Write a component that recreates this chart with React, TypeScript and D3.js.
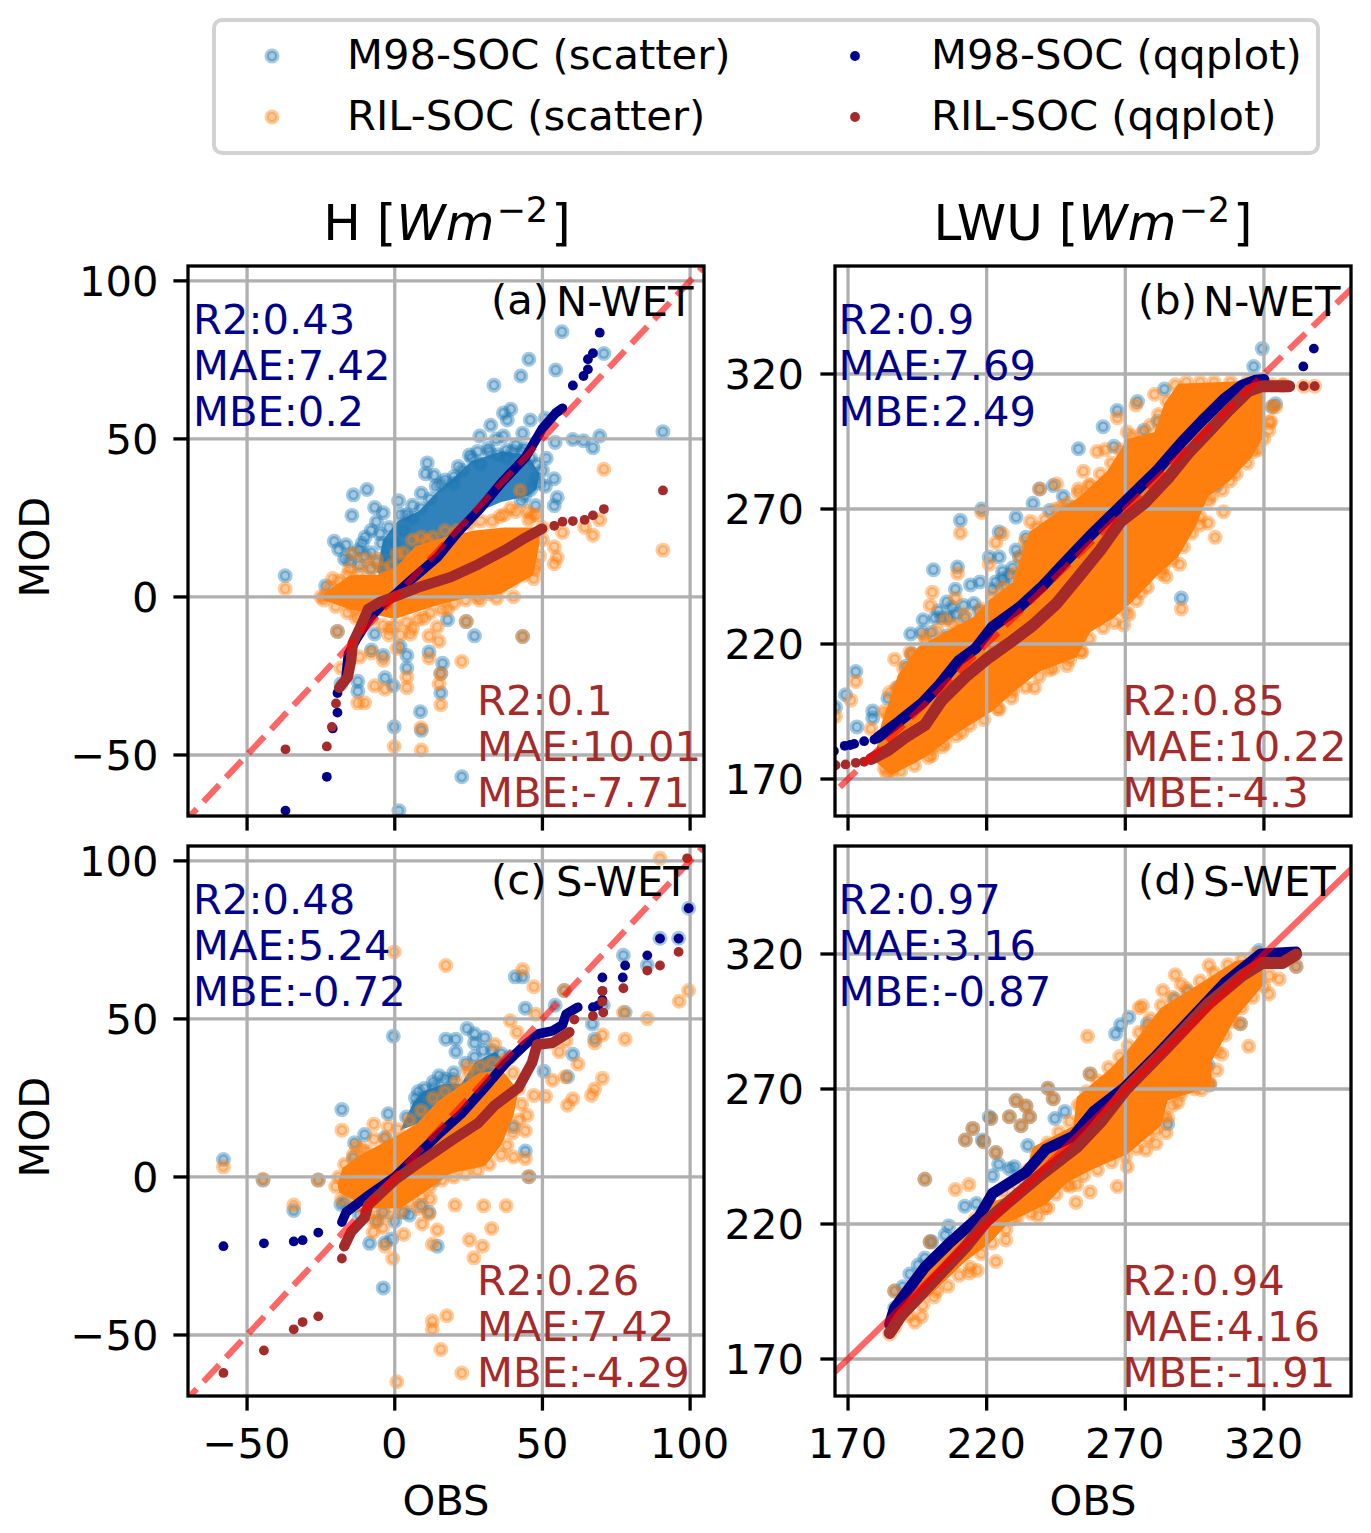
import React from "react";
import * as d3 from "d3";

type P = [number, number];

const hTicks = [-50, 0, 50, 100];
const lwuTicks = [170, 220, 270, 320];
const legendLabels = ["M98-SOC (scatter)", "RIL-SOC (scatter)", "M98-SOC (qqplot)", "RIL-SOC (qqplot)"];

// ---------- panel (a)
const aBlueCore: P[] = [[-6,8],[-4,18],[1,24],[8,27],[14,33],[19,37],[26,43],[36,46],[45,45],[49,39],[48,34],[45,32],[36,30],[26,26],[19,19],[14,14],[8,8],[1,6],[-4,6]];
const aOrangeCore: P[] = [[-24,1],[-15.3,6.9],[-6,7],[0,9],[7,16],[17,19],[27,21],[37,22],[49,22],[49,17],[47,7],[36,1],[25,0],[13,-3],[0,-7],[-15,-4],[-24,-1]];
const aBlue: P[] = [[56.6,83.9],[70.8,77],[45.4,75.2],[54.5,71.8],[42.7,69.9],[33.6,67],[39.3,59.4],[36.8,58.2],[38.1,56],[45.9,56],[50.9,56.5],[32.5,54.3],[28.8,50.9],[36.8,50.9],[43.3,51.8],[54.3,48.9],[60.3,49.8],[63.9,49.4],[67.1,47.2],[69.4,50.9],[90.8,52.3],[31.6,47],[34.4,50],[25.3,44.9],[37.9,46.4],[11,42.4],[10.4,39],[21.5,41.3],[13.3,38.5],[15.6,35.7],[9,32.8],[-14,32.3],[-9.4,34],[-14.5,25.8],[-6.8,28.3],[1.3,30.4],[-6.2,23.8],[-3.9,26.6],[-20.5,17.6],[-16.5,16.5],[-14.2,13.7],[-15.3,11.4],[-4.5,17],[-37.1,6.7],[-23.4,3.5],[54,37.4],[55,31.5],[54,28.9],[47.7,28.9],[42.8,30.4],[51.3,43.9],[47.7,37.4],[17.9,-7.2],[27,-12.3],[43.3,-12.5],[24.2,-7.8],[-6.8,-11.7],[11.6,-17.4],[-7.9,-16.8],[-3.9,-18.5],[1.8,-15.7],[4.1,-18.5],[4.1,-22.5],[16.2,-21],[15.6,-24.2],[15.6,-30.4],[-3.3,-25.6],[-0.5,-28.1],[-12.5,-26.7],[-12.5,-29.8],[-18.2,-27.5],[8.7,-36.3],[-0.2,-41.1],[9,-42.2],[22.7,-56.9],[1.4,-67.6],[-19.4,-10.9],[-10,19],[-12,15],[-8,21],[4,26],[6,29],[28,46],[41,48],[44,47],[20,38]];
const aBlueEdge: P[] = [[-8,14],[-5,20],[-2,22],[2,26],[6,25],[9,28],[12,31],[14,35],[17,37],[20,36],[23,40],[26,44],[29,42],[32,46],[35,45],[38,44],[40,46],[43,46],[46,44],[48,42],[50,40],[49,36],[46,34],[44,32],[51,35],[-12,10],[-8,9],[-10,13],[-6,11],[-3,13],[0,17],[3,21],[-17,12],[-19,15],[-11,17]];
const aOrange: P[] = [[70.8,40.4],[90.8,14.8],[69.4,24.4],[67.1,19.5],[56.8,20.4],[64.3,22.1],[54,15.9],[55,12.5],[54,10.5],[47.7,8.6],[47,5.8],[43.6,6.9],[42.5,33.7],[39.3,28],[46.5,25.8],[45.4,24.4],[35.6,25.5],[11,17.6],[8.7,14.2],[-14.2,13.7],[-10.2,12],[-6.2,12],[0.7,13.7],[-37.1,2.6],[-23.4,0.7],[-21,5.8],[-15.3,8.9],[40.2,0.1],[34.5,-0.5],[28.8,-1],[17.9,-3.8],[24.2,-7.8],[43.3,-12.5],[14.4,-9.5],[9.9,-6.7],[11.6,-12.3],[15,-14],[5.3,-11.7],[-1.6,-10],[-14.8,-2.7],[-13,-6.7],[-19.4,-10.9],[-11.9,-19],[-7.9,-17.7],[-3.9,-20],[0.7,-16.3],[4.1,-25.3],[4.1,-28.7],[-6.8,-28.1],[-3.3,-29.2],[11.6,-19.3],[22.7,-20.4],[15.6,-24.2],[15,-27.5],[15.6,-34.1],[-12.5,-33.5],[-10.2,-33.5],[-18.2,-22.5],[8.9,-41.4],[-0.2,-47.3],[9,-48.4]];
const aOrangeEdge: P[] = [[-25,0],[-22,3],[-19,5],[-16,7],[-12,8],[-8,9],[-4,9],[-1,10],[3,14],[6,18],[9,19],[13,19],[17,21],[21,21],[25,23],[29,24],[33,24],[37,26],[41,27],[45,27],[48,26],[50,22],[50,18],[49,13],[48,10],[44,8],[40,5],[36,3],[32,1],[28,0],[24,-1],[20,-2],[16,-4],[12,-5],[8,-7],[4,-8],[0,-9],[-4,-9],[-8,-7],[-12,-6],[-16,-5],[-20,-3],[-24,-1],[-2,-12],[2,-12],[6,-10]];
const aNavyLine: P[] = [[-16.5,-25.3],[-15.7,-18],[-13,-13.4],[-8.5,-6.7],[-3.9,-2.1],[0,0.7],[5.3,5.2],[14.4,12.5],[21.3,20.4],[28.8,27.8],[36.2,36.2],[44.2,44.1],[49.9,53.2],[54.5,58.2],[56.8,59.7]];
const aNavyPts: P[] = [[-37,-67.6],[-23,-56.9],[-21,-41.6],[-19.4,-36.6],[-19.4,-30.4],[60.3,66.9],[63.9,69.9],[65.4,72],[65.4,75.2],[67.1,77.1],[69.4,83.6]];
const aBrownLine: P[] = [[-18.8,-28.7],[-15.9,-25.3],[-14.8,-20.2],[-14.2,-14.6],[-11.3,-8.9],[-9,-3.8],[-5,-1.6],[0,0.1],[7.6,2.9],[19,6.3],[28.2,10.3],[37.3,14.8],[44.2,18.7],[49.9,21.6]];
const aBrownPts: P[] = [[54,22.5],[56.8,23.8],[60.3,24],[64.3,24.4],[67.1,25.8],[70.8,27.8],[90.8,33.7],[-19.9,-33.7],[-21.3,-41.1],[-23,-47.3],[-37,-48.2]];

// ---------- panel (b)
const bOrangeCore: P[] = [[179.5,176.7],[181.9,190],[188,208.5],[195.3,219],[205,224.4],[214.8,229.7],[220.9,236.3],[229.4,242.9],[235.4,261.5],[242.7,266.8],[253.7,274.7],[263.4,284],[270.7,295.9],[280.5,298.5],[284.1,309.1],[289,316.4],[320.6,317.7],[320.6,315.8],[319.4,295.9],[315.7,289.3],[307.2,280],[299.9,274.7],[295,262.8],[289,252.2],[281.7,245.6],[271.9,235],[265.9,229.7],[257.3,224.4],[252.5,215.1],[239.1,209.8],[229.4,201.9],[222.1,195.2],[209.9,187.3],[197.7,178],[185.6,171.4]];
const bBlue: P[] = [[319.4,329.4],[316.3,322.8],[323,307.8],[324.2,309],[267.1,306.5],[262,300.5],[253.1,292.3],[265.9,293.2],[274.4,309.8],[276.8,299.2],[281.7,302.5],[284.1,314.4],[236.7,272.1],[239.1,277.4],[244,278.7],[247.6,274.7],[242.7,269.4],[248.8,269.4],[230.6,267],[218.2,270],[210.5,265.8],[224.5,261.5],[234.2,259.5],[230.6,254.8],[220.9,252.2],[224.5,252.2],[200.8,247.5],[209.5,248.5],[214.2,241.9],[217.6,243],[223.3,243],[225.7,246.9],[229.4,248.2],[208.7,240.3],[205.6,235.6],[211.7,234.3],[215.4,235],[197.1,229],[201.4,229.7],[192.6,223.7],[205.6,223],[212.3,229.7],[208.7,231],[217.2,232.3],[199,217.7],[191,211.8],[172.8,209.8],[188,203.8],[184.4,199.9],[178.9,195.2],[178.9,192.6],[169.1,201.2],[173.2,189.3],[165.5,196.6],[290.2,237],[308.4,285.3],[303,278.7],[225.7,244.2],[228.2,245.6],[226.9,241.6],[222.1,240.3],[231.8,252.2],[235.4,256.2],[239.1,257.5],[241.5,260.1],[244,264.1],[248.8,266.8],[251.3,270.7],[203.8,229.7],[206.3,229.7],[207.5,233.6],[202.6,232.3],[196.5,224.4],[200.2,224.4],[195.3,213.8],[192.9,216.4]];
const bOrange: P[] = [[267.1,303.8],[273.8,308.5],[280.5,312.5],[270.7,298.5],[259.8,291.3],[262.8,292],[254.9,284],[239.1,277.4],[245.2,279.3],[253.1,277.4],[257.3,278.7],[247,270.7],[235.8,265.4],[218.2,268.7],[210.5,261.1],[225.7,260.8],[223.3,257.5],[234.8,254.8],[220.9,249.5],[209.5,246.2],[200.4,239.2],[199.6,234.3],[208.7,237],[197.7,223],[205,229],[209.9,225.7],[216,226.4],[186.8,214.4],[192.3,217.1],[172.8,206.1],[171,199.2],[184.4,193.9],[187.4,203.8],[165.5,193.2],[178.3,188.6],[200.2,178.7],[185.6,172.7],[192.9,178],[194,180],[183.1,174],[211.1,187.3],[200.2,181.3],[205,183],[224.5,195.9],[237.3,203.8],[229.4,202.5],[242.7,210.5],[250,214.4],[254.3,217.1],[256.1,227],[269.5,227],[271.3,231],[267.1,235],[275.6,239],[284.7,244.9],[289.6,249.5],[283.5,248.2],[290.2,233],[302.4,259.5],[296.9,264.1],[299.9,264.8],[305.4,269],[301.1,274.7],[307.8,280.4],[308.4,284],[316.3,291.3],[321.8,299.2],[322.5,302.5],[324.2,307.8],[334.3,315.5],[338.3,315.5],[326.7,315.8]];
const bOrangeEdge: P[] = [[183,195],[185,202],[190,211],[193,216],[198,221],[202,225],[208,227],[212,231],[218,233],[222,238],[226,241],[230,246],[232,252],[234,258],[238,263],[241,266],[245,270],[249,272],[253,276],[257,279],[261,283],[265,287],[268,292],[272,297],[276,298],[279,301],[282,305],[285,310],[288,316],[292,317],[297,317],[302,317],[308,317],[314,317],[319,317],[323,316],[327,316],[323,308],[322,302],[320,296],[318,292],[314,287],[310,283],[305,277],[300,273],[297,267],[294,261],[291,256],[287,251],[283,246],[278,241],[274,236],[270,232],[266,228],[262,226],[257,222],[254,217],[249,212],[244,211],[239,208],[234,204],[229,200],[224,196],[219,192],[214,190],[209,186],[204,182],[199,178],[194,175],[189,173],[184,172]];
const bNavyLine: P[] = [[180.7,185.3],[186.8,190],[196.5,197.9],[202.6,204.5],[209.9,213.8],[216,218.4],[222.1,226.4],[231.8,233.6],[240.3,241.6],[248.8,250.9],[257.3,260.1],[264.6,267.4],[271.9,274.7],[281.7,284.6],[290.2,294.6],[297.5,302.5],[306,311.1],[312,315.8],[317,317.7],[320,318]];
const bNavyPts: P[] = [[164.9,180.4],[168.8,182.3],[170.8,182.6],[172.2,183],[175.8,184],[179.5,184.6],[334.2,322.8],[338,329.4]];
const bBrownLine: P[] = [[178.3,177.4],[184.4,180.7],[190.4,185.3],[197.7,190],[203.8,199.2],[212.3,207.8],[220.9,215.1],[228.2,220.4],[236.7,227],[245.2,235],[253.7,245.6],[261,254.8],[268.3,265.4],[276.8,272.1],[285.3,281.3],[292.6,290.6],[299.9,298.5],[307.2,306.5],[314.5,313.8],[319.4,315.5],[329.1,315.5]];
const bBrownPts: P[] = [[165.5,175.1],[169.1,175.4],[172.8,176],[175.8,176.4],[334.3,315.5],[338.3,315.5]];

// ---------- panel (c)
const cBlueCore: P[] = [[1.8,14.8],[6.4,23.8],[9.9,27.2],[16.7,29.5],[22.5,29.5],[27,36.2],[33.9,39.6],[37.9,36.2],[30.5,24.9]];
const cOrangeCore: P[] = [[-19.4,-2.1],[-17.6,2.9],[-11.9,6.9],[-5,10.3],[1.8,13.7],[7.6,17],[14.4,23.8],[21.3,28.3],[28.2,32.8],[36.2,34],[41.9,27.2],[40.2,19.3],[36.2,10.3],[30.5,3.5],[19,1.2],[9.9,-5],[1.8,-10],[-8.5,-10],[-18.8,-5]];
const cBlue: P[] = [[-0.5,44.5],[17.3,43.6],[20.7,43.6],[24.5,47],[27,45.3],[20.7,39.6],[27,42.4],[30.5,44.1],[40.8,63.3],[43.3,63.3],[57.4,59],[54.3,54.3],[44.2,53.4],[77.4,70.1],[85.5,67],[89.8,75.5],[96.1,75.5],[99.5,85],[70.6,54.3],[66.9,48.4],[67.7,43.6],[60.3,38.8],[50.5,33.4],[58.5,31.7],[78,52],[19.6,30.8],[13.3,28.3],[9.9,24.9],[7.6,22.7],[-2.2,20],[-17.9,21.3],[-10.2,13.4],[-13.6,10.8],[-3.3,12.5],[-58,5.5],[-44.6,-1],[-25.9,-1],[-34.2,-10.6],[44.2,8.2],[45.4,0.1],[40.2,15.9],[3,-11.2],[-3.9,-11.2],[-18.2,-8.7],[-8.5,-21],[-3.3,-20.8],[11.6,-11.2],[14.4,-21.9],[-3.9,-35.1],[-1,-19.6],[13.3,-1]];
const cBlueEdge: P[] = [[4,19],[7,25],[10,28],[13,30],[17,31],[20,33],[24,36],[27,38],[30,40],[33,40],[36,39],[39,38],[15,32],[8,27],[-14,6],[-17,-8],[-12,-12],[-6,-14],[0,-14],[5,-12],[9,-9]];
const cOrange: P[] = [[-0.2,71.2],[17.3,66.9],[43.3,65.6],[47.1,60.2],[57.4,59],[89.8,100.8],[99.5,59],[96.3,55.6],[85.5,50.1],[78,43.6],[70.3,44.9],[67.7,42.4],[62,35.7],[70.3,31.2],[67.7,27.8],[66.6,25.8],[60.3,24.7],[58.5,22.7],[57.7,31.7],[53.4,30.6],[51.1,25.5],[47.1,25.8],[44.8,19.5],[44.2,14.6],[40.2,6.3],[44.2,5.8],[45.4,0.1],[39.1,49.4],[47.7,51.5],[41.4,45.8],[33.9,41.9],[24.7,34.9],[58,43],[55.7,39.6],[77.4,52],[-7.1,16.7],[-17.9,14.8],[-2.2,15.9],[-13.1,9.7],[-9.6,8],[-58,3.2],[-44.6,-0.7],[-25.9,-1],[-34.2,-8.9],[20.4,-8.9],[30.1,-9.1],[37.7,-9.1],[32.8,-16.3],[25.3,-19.9],[29.7,-21.9],[26.8,-25.6],[14.4,-16.8],[9.3,-14.9],[11.6,-11.7],[12.7,-21.3],[3,-18.2],[-3.3,-21.9],[-0.7,-25.8],[-7.3,-17.4],[12.7,-45.6],[17.6,-43.9],[12.7,-48.2],[15.6,-54.6],[22.7,-62],[0.7,-64.8]];
const cOrangeEdge: P[] = [[-19,0],[-17,4],[-14,7],[-11,9],[-7,12],[-3,12],[1,15],[5,18],[9,21],[13,25],[17,27],[21,30],[25,33],[29,35],[33,36],[37,37],[40,33],[42,28],[43,23],[42,18],[40,14],[38,10],[36,7],[32,4],[28,2],[24,1],[20,0],[16,-1],[12,-3],[9,-6],[5,-8],[2,-11],[-2,-12],[-6,-12],[-10,-11],[-14,-9],[-18,-7],[-20,-3],[-7,-14],[-4,-16],[8,-10],[12,-7]];
const cNavyLine: P[] = [[-17.9,-14.3],[-16.5,-11.2],[-8.5,-5.5],[0,0],[7.6,6.9],[14.4,13.1],[22.5,19.9],[30.5,28.3],[37.3,35.7],[44.2,41.9],[48.8,45.3],[53.4,46.2],[56.8,48.1],[58,51.5],[62,53.7]];
const cNavyPts: P[] = [[-58,-21.9],[-44.3,-21],[-34.2,-20.4],[-31.2,-20],[-25.9,-17.6],[67.1,53.7],[68.9,54.3],[70.3,56],[70.3,58.8],[70.3,63.1],[77.2,63.1],[78,66.9],[85.5,70.1],[89.8,75.4],[96.1,75.4],[99.5,85]];
const cBrownLine: P[] = [[-17.1,-21.9],[-14.8,-17.4],[-10.2,-12.9],[-9,-8.9],[0,-1],[7.6,4.1],[19,11.4],[28.2,17],[33.9,22.7],[41.9,28.3],[46.5,36.2],[48.2,41.9],[53.4,42.4],[59.1,45.8]];
const cBrownPts: P[] = [[-58,-62],[-44.3,-54.9],[-34.2,-48.2],[-31.2,-45.9],[-25.9,-44.1],[-17.9,-25.8],[60.8,49.8],[67.1,50.9],[70.6,52],[70.3,55.4],[70.3,58.8],[77.4,59.7],[85.5,65.3],[89.8,66.9],[96.1,71.2],[99,100.8]];

// ---------- panel (d)
const dOrangeCore: P[] = [[188,188.9],[200,205],[220.9,228],[231.8,231.3],[236.7,248.5],[251.3,256.4],[252.5,267],[264.6,277.6],[270.7,284.2],[282.9,300.1],[297.5,309.4],[309.7,317.4],[320.6,319.3],[320.6,309.4],[309.7,296.2],[301.1,280.3],[301.1,271],[285.3,265.7],[282.9,256.4],[270.7,245.8],[258.6,240.5],[248.8,235.2],[241.5,227.3],[228.2,220.7],[220.9,212.7],[212.3,206.1],[200.2,194.2],[188,183.6]];
const dBlue: P[] = [[266.5,290.5],[268.3,293.8],[271.3,296.6],[278,294.2],[299.9,278.9],[311.5,294.2],[292.6,306.1],[318.2,321.3],[287.8,303.4],[244.6,259.1],[248.2,261.7],[267.1,251.1],[285.3,257.1],[234.2,263.7],[222.1,237.9],[228.2,240.5],[230,241.2],[224.3,242.1],[234.8,249.1],[212.1,226.6],[216.3,227.6],[206.3,219.3],[197.7,236.6],[197.7,207.4],[192.3,201.5],[189.8,196.8],[205,215.9],[186.8,188.9],[200.2,213.4],[195.3,204.8],[220.9,259.7],[218.4,251.1],[212.3,251.1],[215,255.4],[257.3,275.6],[242.1,270.3],[244,266.4],[230.6,265.7],[235.5,259.7],[228.2,259.7],[232.4,256.4],[221.5,259.1],[219,250.5],[223.3,246.5],[199.6,213.4],[186.8,195.2],[300.5,271.5],[331.6,315.4]];
const dOrange: P[] = [[288,312.3],[290.2,308.7],[283.5,306.5],[300.2,315.8],[276.2,300.8],[275,300.1],[256.4,289.5],[277.8,292.2],[314.5,285.8],[304.8,282.9],[300.5,272.3],[297.5,269.7],[289,265],[284.7,253.8],[281.1,249.8],[277.4,247.4],[270.7,241.2],[267.1,233.9],[257.3,231.9],[252.2,228],[252.5,234.6],[248.8,234.6],[242.1,226],[238.5,223],[229.4,221.8],[226.9,214.1],[223.3,206.1],[216.6,202.8],[213.8,201.9],[213.6,234.6],[208.7,232.8],[196.5,185.8],[202,195.2],[194.1,183.6],[185,179.3],[321.8,305.2],[325.5,310.7],[331.6,315.4],[327.3,317.4],[257.3,275.6],[242.1,270.3],[244,266.4],[234.2,263.7],[230.6,265.7],[235.5,259.7],[228.2,259.7],[232.4,256.4],[221.5,259.1],[215,255.4],[212.3,251.1],[219,250.5],[223.3,246.5],[197.7,236.6],[199.6,213.4],[186.8,195.2],[285.3,259.3],[311.5,294.2]];
const dOrangeEdge: P[] = [[190,192],[197,199],[203,206],[210,214],[216,222],[221,228],[226,232],[231,234],[235,240],[238,246],[242,250],[246,254],[250,258],[253,264],[256,269],[260,273],[264,278],[268,282],[271,286],[275,291],[279,296],[283,301],[287,304],[292,307],[297,310],[302,313],[307,316],[312,318],[317,320],[322,312],[320,308],[316,304],[312,300],[309,295],[306,290],[303,284],[303,277],[300,272],[295,270],[290,268],[287,264],[284,260],[281,255],[278,252],[274,248],[270,245],[265,243],[260,240],[255,238],[250,234],[245,231],[241,226],[236,224],[231,222],[227,218],[222,213],[218,209],[214,204],[210,201],[206,197],[201,193],[197,190],[192,186],[187,182]];
const dNavyLine: P[] = [[185,182.9],[186.8,188.9],[197.7,204],[206.3,212.7],[217.2,222.6],[222.1,231.3],[234.2,239.2],[241.5,247.8],[251.3,252.5],[258.6,261.7],[269.5,270.3],[280.5,281.6],[292.6,294.8],[306,309.4],[318.8,320],[331.6,320.7]];
const dBrownLine: P[] = [[185,179.6],[189.2,186.2],[198.9,196.8],[212.3,211.4],[219.6,220.7],[226.9,227.3],[239.1,237.9],[252.5,248.5],[261,257.7],[270.1,269.7],[285.3,285.6],[299.9,301.5],[312.1,312],[319.4,316.7],[326.7,316.7],[331.6,319.8]];

const BLUE = "#1f77b4", ORANGE = "#ff7f0e", NAVY = "#00008b", BROWN = "#a52a2a";
const FONT = "'DejaVu Sans'";
const FS = 41.67;
const STROKE = 3.3;

function fmt(v: number) {
  return v < 0 ? "\u2212" + Math.abs(v) : String(v);
}

function Dot({ x, y, color }: { x: number; y: number; color: string }) {
  return <circle cx={x} cy={y} r={5.2} fill={color} fillOpacity={0.4} stroke={color} strokeOpacity={0.4} strokeWidth={4.6} />;
}

type PanelProps = {
  id: string; left: number; top: number; xDomain: P; yDomain: P; ticks: number[];
  blueCore: P[]; orangeCore: P[]; blue: P[]; orange: P[];
  navyLine: P[]; navyPts: P[]; brownLine: P[]; brownPts: P[];
  navyText: string[]; brownText: string[]; tag: string; region: string;
  showX: boolean; showY: boolean; dashed: boolean; lineRange: P; qqWidth: number; textShift: number;
};

function Panel(p: PanelProps) {
  const W = 516, H = 550;
  const x = d3.scaleLinear().domain(p.xDomain).range([p.left, p.left + W]);
  const y = d3.scaleLinear().domain(p.yDomain).range([p.top + H, p.top]);
  const path = d3.line<P>().x((d) => x(d[0])).y((d) => y(d[1]));
  const clip = `clip-${p.id}`;
  return (
    <g fontFamily={FONT} fontSize={FS}>
      <clipPath id={clip}><rect x={p.left} y={p.top} width={W} height={H} /></clipPath>
      <g clipPath={`url(#${clip})`}>
        {p.blueCore.length > 0 && <path d={path(p.blueCore)! + "Z"} fill={BLUE} fillOpacity={0.92} />}
        {p.blue.map((d, i) => <Dot key={i} x={x(d[0])} y={y(d[1])} color={BLUE} />)}
        <path d={path(p.orangeCore)! + "Z"} fill={ORANGE} />
        {p.orange.map((d, i) => <Dot key={i} x={x(d[0])} y={y(d[1])} color={ORANGE} />)}
        {p.ticks.map((t) => (
          <g key={t} stroke="#b0b0b0" strokeWidth={STROKE}>
            <line x1={x(t)} x2={x(t)} y1={p.top} y2={p.top + H} />
            <line x1={p.left} x2={p.left + W} y1={y(t)} y2={y(t)} />
          </g>
        ))}
        <path d={path(p.navyLine)!} fill="none" stroke={NAVY} strokeWidth={p.qqWidth} strokeLinecap="round" strokeLinejoin="round" />
        {p.navyPts.map((d, i) => <circle key={i} cx={x(d[0])} cy={y(d[1])} r={4.9} fill={NAVY} />)}
        <path d={path(p.brownLine)!} fill="none" stroke={BROWN} strokeWidth={p.qqWidth + 1} strokeLinecap="round" strokeLinejoin="round" />
        {p.brownPts.map((d, i) => <circle key={i} cx={x(d[0])} cy={y(d[1])} r={4.9} fill={BROWN} />)}
        <line x1={x(p.lineRange[0])} y1={y(p.lineRange[0])} x2={x(p.lineRange[1])} y2={y(p.lineRange[1])}
          stroke="red" strokeOpacity={0.6} strokeWidth={6.2} strokeDasharray={p.dashed ? "23 10" : undefined} />
      </g>
      <rect x={p.left} y={p.top} width={W} height={H} fill="none" stroke="#000" strokeWidth={STROKE} />
      {p.ticks.map((t) => (
        <g key={t}>
          <line x1={x(t)} x2={x(t)} y1={p.top + H} y2={p.top + H + 14.6} stroke="#000" strokeWidth={STROKE} />
          <line x1={p.left - 14.6} x2={p.left} y1={y(t)} y2={y(t)} stroke="#000" strokeWidth={STROKE} />
          <text x={p.left - 29.5 + p.textShift} y={y(t) + 15} textAnchor="end">{fmt(t)}</text>
          {p.showX && <text x={x(t) - 0.5} y={p.top + H + 62} textAnchor="middle">{fmt(t)}</text>}
        </g>
      ))}
      {p.navyText.map((s, i) => <text key={s} x={p.left + 5 + p.textShift} y={p.top + 68 + i * 46} fill={NAVY}>{s}</text>)}
      {p.brownText.map((s, i) => <text key={s} x={p.left + 289 + p.textShift} y={p.top + 449 + i * 46} fill={BROWN}>{s}</text>)}
      <text x={p.left + 303} y={p.top + 48}>{p.tag}</text>
      <text x={p.left + 368} y={p.top + 50}>{p.region}</text>
      {p.showY && <text transform={`translate(49,${p.top + H / 2 + 6}) rotate(-90)`} textAnchor="middle">MOD</text>}
      {p.showX && <text x={p.left + W / 2} y={p.top + H + 118.5} textAnchor="middle">OBS</text>}
    </g>
  );
}

function Title({ cx, name }: { cx: number; name: string }) {
  return (
    <text x={cx} y={240} textAnchor="middle" fontFamily={FONT} fontSize={50}>
      {name} [<tspan fontStyle="italic">Wm</tspan><tspan dx={2} dy={-18} fontSize={35}>{"\u22122"}</tspan><tspan dx={3} dy={18}>]</tspan>
    </text>
  );
}

export default function App() {
  const legendItems = [
    { x: 272, y: 56, color: BLUE, ring: true },
    { x: 272, y: 117, color: ORANGE, ring: true },
    { x: 855, y: 56, color: NAVY, ring: false },
    { x: 855, y: 117, color: BROWN, ring: false },
  ];
  const panelA = { blue: [...aBlue, ...aBlueEdge], orange: [...aOrange, ...aOrangeEdge] };
  const panelB = { blue: bBlue, orange: [...bOrange, ...bOrangeEdge] };
  const panelC = { blue: [...cBlue, ...cBlueEdge], orange: [...cOrange, ...cOrangeEdge] };
  const panelD = { blue: dBlue, orange: [...dOrange, ...dOrangeEdge] };
  return (
    <svg width={1371} height={1533} viewBox="0 0 1371 1533" style={{ position: "absolute", left: 0, top: 0, background: "#fff" }}>
      <rect x={214} y={20} width={1104} height={133} rx={8} fill="#fff" stroke="#d2d2d2" strokeWidth={4} />
      {legendItems.map((l, i) => (
        <g key={i}>
          {l.ring ? <Dot x={l.x} y={l.y} color={l.color} /> : <circle cx={l.x} cy={l.y} r={4.9} fill={l.color} />}
          <text x={l.ring ? 347 : 931} y={l.y + 13} fontFamily={FONT} fontSize={FS}>{legendLabels[i]}</text>
        </g>
      ))}
      <Title cx={447} name="H" />
      <Title cx={1093} name="LWU" />
      <Panel id="a" left={188} top={266} xDomain={[-70, 104.7]} yDomain={[-69.3, 104.7]} ticks={hTicks}
        blueCore={aBlueCore} orangeCore={aOrangeCore} blue={panelA.blue} orange={panelA.orange}
        navyLine={aNavyLine} navyPts={aNavyPts} brownLine={aBrownLine} brownPts={aBrownPts}
        navyText={["R2:0.43", "MAE:7.42", "MBE:0.2"]} brownText={["R2:0.1", "MAE:10.01", "MBE:-7.71"]}
        tag="(a)" region="N-WET" showX={false} showY dashed lineRange={[-80, 115]} qqWidth={9.5} textShift={0} />
      <Panel id="b" left={835} top={266} xDomain={[165.3, 351.4]} yDomain={[156.3, 360]} ticks={lwuTicks}
        blueCore={[]} orangeCore={bOrangeCore} blue={panelB.blue} orange={panelB.orange}
        navyLine={bNavyLine} navyPts={bNavyPts} brownLine={bBrownLine} brownPts={bBrownPts}
        navyText={["R2:0.9", "MAE:7.69", "MBE:2.49"]} brownText={["R2:0.85", "MAE:10.22", "MBE:-4.3"]}
        tag="(b)" region="N-WET" showX={false} showY={false} dashed lineRange={[150, 370]} qqWidth={11} textShift={-1.5} />
      <Panel id="c" left={188} top={846} xDomain={[-70, 104.7]} yDomain={[-69.3, 104.7]} ticks={hTicks}
        blueCore={cBlueCore} orangeCore={cOrangeCore} blue={panelC.blue} orange={panelC.orange}
        navyLine={cNavyLine} navyPts={cNavyPts} brownLine={cBrownLine} brownPts={cBrownPts}
        navyText={["R2:0.48", "MAE:5.24", "MBE:-0.72"]} brownText={["R2:0.26", "MAE:7.42", "MBE:-4.29"]}
        tag="(c)" region="S-WET" showX showY dashed lineRange={[-80, 115]} qqWidth={9.5} textShift={0} />
      <Panel id="d" left={835} top={846} xDomain={[165.3, 351.4]} yDomain={[156.3, 360]} ticks={lwuTicks}
        blueCore={[]} orangeCore={dOrangeCore} blue={panelD.blue} orange={panelD.orange}
        navyLine={dNavyLine} navyPts={[]} brownLine={dBrownLine} brownPts={[]}
        navyText={["R2:0.97", "MAE:3.16", "MBE:-0.87"]} brownText={["R2:0.94", "MAE:4.16", "MBE:-1.91"]}
        tag="(d)" region="S-WET" showX showY={false} dashed={false} lineRange={[150, 370]} qqWidth={11} textShift={-1.5} />
    </svg>
  );
}
